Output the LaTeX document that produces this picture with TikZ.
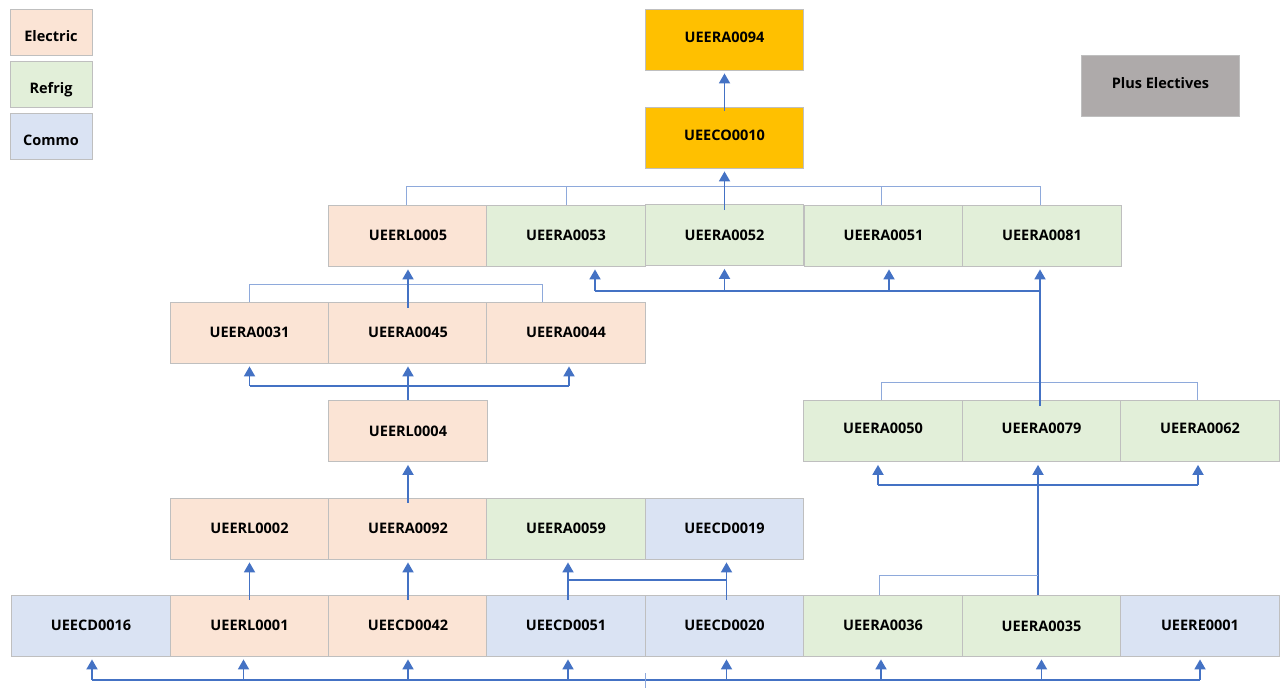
\documentclass[tikz,border=0pt]{standalone}
\usepackage{fontspec}
\setmainfont{Open Sans}
\usetikzlibrary{arrows.meta}
\definecolor{elec}{HTML}{FBE4D5}
\definecolor{refr}{HTML}{E2EFD9}
\definecolor{comm}{HTML}{DAE3F3}
\definecolor{gold}{HTML}{FFC000}
\definecolor{plusg}{HTML}{AEAAAA}
\definecolor{bord}{HTML}{BFBFBF}
\definecolor{arrblue}{HTML}{4472C4}
\definecolor{thinblue}{HTML}{8EA9DB}
\tikzset{
  box/.style={draw=bord, line width=0.8pt, rectangle, inner sep=0pt,
    minimum width=158.5pt, minimum height=61pt, text height=10.5pt, text depth=0pt,
    font=\fontsize{14.5}{17}\selectfont\bfseries, text=black},
  hi/.style={text height=11pt, text depth=6pt},
  eb/.style={box, fill=elec},
  rb/.style={box, fill=refr},
  cb/.style={box, fill=comm},
  gb/.style={box, hi, fill=gold},
  legbox/.style={box, minimum width=82pt, minimum height=46pt, text height=19pt, text depth=0pt},
  arr/.style={draw=arrblue, line width=1.8pt, -{Triangle[width=11pt,length=10pt]}, shorten >=3pt},
  bus/.style={draw=arrblue, line width=1.8pt},
  thin/.style={draw=thinblue, line width=0.9pt},
}
\begin{document}
\begin{tikzpicture}[x=1pt,y=-1pt]
\useasboundingbox (0,0) rectangle (1282,688);
% legend
\node[legbox, fill=elec] (legE) at (51,32) {Electric};
\node[legbox, fill=refr] (legR) at (51,84) {Refrig};
\node[legbox, fill=comm] (legC) at (51,136) {Commo};
\node[box, hi, fill=plusg] (plus) at (1160.5,86) {Plus Electives};
% top
\node[gb] (A0094) at (724.5,39.5) {UEERA0094};
\node[gb] (C0010) at (724.5,137.5) {UEECO0010};
% row 3
\node[eb] (L0005) at (408,235.5) {UEERL0005};
\node[rb] (A0053) at (566,235.5) {UEERA0053};
\node[rb] (A0052) at (724.5,235) {UEERA0052};
\node[rb] (A0051) at (883.5,235.5) {UEERA0051};
\node[rb] (A0081) at (1042,235.5) {UEERA0081};
% row 4
\node[eb] (A0031) at (249.5,332.5) {UEERA0031};
\node[eb] (A0045) at (408,332.5) {UEERA0045};
\node[eb] (A0044) at (566,332.5) {UEERA0044};
% row 5
\node[eb] (L0004) at (408,431) {UEERL0004};
\node[rb, hi] (A0050) at (883,431) {UEERA0050};
\node[rb, hi] (A0079) at (1041.5,431) {UEERA0079};
\node[rb, hi] (A0062) at (1200,431) {UEERA0062};
% row 6
\node[eb] (L0002) at (249.5,528.5) {UEERL0002};
\node[eb] (A0092) at (408,528.5) {UEERA0092};
\node[rb] (A0059) at (566,528.5) {UEERA0059};
\node[cb] (D0019) at (724.5,528.5) {UEECD0019};
% row 7
\node[cb] (D0016) at (91,625.5) {UEECD0016};
\node[eb] (L0001) at (249.5,625.5) {UEERL0001};
\node[eb] (D0042) at (408,625.5) {UEECD0042};
\node[cb] (D0051) at (566,625.5) {UEECD0051};
\node[cb] (D0020) at (724.5,625.5) {UEECD0020};
\node[rb] (A0036) at (883,625.5) {UEERA0036};
\node[rb] (A0035) at (1041.5,626) {UEERA0035};
\node[cb] (E0001) at (1200,625.5) {UEERE0001};

% helper coordinates
\coordinate (busB) at (0,680);
\coordinate (stubT) at (645,673);
\coordinate (stubB) at (645,688);

% bottom bus
\draw[bus] ([xshift=1pt]D0016.south |- busB) -- (E0001.south |- busB);
\draw[thin] (stubT) -- (stubB);
\draw[arr] ([xshift=1pt]D0016.south |- busB) -- ([xshift=1pt]D0016.south);
\draw[arr] ([xshift=-6pt]L0001.south |- busB) -- ([xshift=-6pt]L0001.south);
\draw[arr] (D0042.south |- busB) -- (D0042.south);
\draw[arr] ([xshift=2pt]D0051.south |- busB) -- ([xshift=2pt]D0051.south);
\draw[arr] ([xshift=2pt]D0020.south |- busB) -- ([xshift=2pt]D0020.south);
\draw[arr] ([xshift=-2pt]A0036.south |- busB) -- ([xshift=-2pt]A0036.south);
\draw[arr] ([yshift=0.5pt]A0035.south |- busB) -- ([yshift=0.5pt]A0035.south);
\draw[arr] (E0001.south |- busB) -- (E0001.south);

% row 7 -> row 6
\draw[arr] ([yshift=-5pt]L0001.north) -- (L0002.south);
\draw[arr] ([yshift=-5pt]D0042.north) -- (A0092.south);
\coordinate (hb7) at (0,580);
\draw[bus] ([xshift=2pt]D0051.north |- hb7) -- ([xshift=2pt]D0020.north |- hb7);
\draw[arr] ([xshift=2pt,yshift=-5pt]D0051.north) -- ([xshift=2pt]A0059.south);
\draw[arr] ([xshift=2pt,yshift=-5pt]D0020.north) -- ([xshift=2pt]D0019.south);

% row 6 -> L0004
\draw[arr] ([yshift=-5pt]A0092.north) -- (L0004.south);

% L0004 -> row 4
\coordinate (hb4) at (0,386);
\draw[bus] (A0031.south |- hb4) -- ([xshift=3pt]A0044.south |- hb4);
\draw[arr] (L0004.north) -- (A0045.south);
\draw[arr] (A0031.south |- hb4) -- (A0031.south);
\draw[arr] ([xshift=3pt]A0044.south |- hb4) -- ([xshift=3pt]A0044.south);

% row 4 bracket
\coordinate (br4) at (0,284);
\draw[thin] (A0031.north) -- (A0031.north |- br4) -- ([xshift=-24pt]A0044.north |- br4) -- ([xshift=-24pt]A0044.north);
\draw[arr] ([yshift=-6pt]A0045.north) -- (L0005.south);

% right group
\coordinate (br5) at (0,382);
\draw[thin] ([xshift=-2pt]A0050.north) -- ([xshift=-2pt]A0050.north |- br5) -- ([xshift=-3pt]A0062.north |- br5) -- ([xshift=-3pt]A0062.north);
\coordinate (hb5) at (0,485);
\draw[bus] ([xshift=-5pt]A0050.south |- hb5) -- ([xshift=-2pt]A0062.south |- hb5);
\draw[arr] ([xshift=-5pt]A0050.south |- hb5) -- ([xshift=-5pt]A0050.south);
\draw[arr] ([xshift=-2pt]A0062.south |- hb5) -- ([xshift=-2pt]A0062.south);
\draw[arr] ([xshift=-3.5pt]A0035.north) -- ([xshift=-3.5pt]A0079.south);
\coordinate (br7) at (0,575);
\draw[thin] ([xshift=-4pt]A0036.north) -- ([xshift=-4pt]A0036.north |- br7) -- ([xshift=-3.5pt]A0035.north |- br7);

% right group -> row 3
\coordinate (hb3) at (0,291);
\draw[bus] ([xshift=29pt]A0053.south |- hb3) -- ([xshift=-2pt]A0081.south |- hb3);
\draw[arr] ([xshift=-1.5pt,yshift=-6pt]A0079.north) -- ([xshift=-2pt]A0081.south);
\draw[arr] ([xshift=29pt]A0053.south |- hb3) -- ([xshift=29pt]A0053.south);
\draw[arr] (A0052.south |- hb3) -- (A0052.south);
\draw[arr] ([xshift=5.5pt]A0051.south |- hb3) -- ([xshift=5.5pt]A0051.south);

% row 3 bracket
\coordinate (br3) at (0,186);
\draw[thin] ([xshift=-2pt]L0005.north) -- ([xshift=-2pt]L0005.north |- br3) -- ([xshift=-2pt]A0081.north |- br3) -- ([xshift=-2pt]A0081.north);
\draw[thin] (A0053.north) -- (A0053.north |- br3);
\draw[thin] ([xshift=-2.5pt]A0051.north) -- ([xshift=-2.5pt]A0051.north |- br3);
\draw[arr] ([yshift=-6pt]A0052.north) -- (C0010.south);

% top
\draw[arr] ([yshift=-4pt]C0010.north) -- (A0094.south);
\end{tikzpicture}
\end{document}
